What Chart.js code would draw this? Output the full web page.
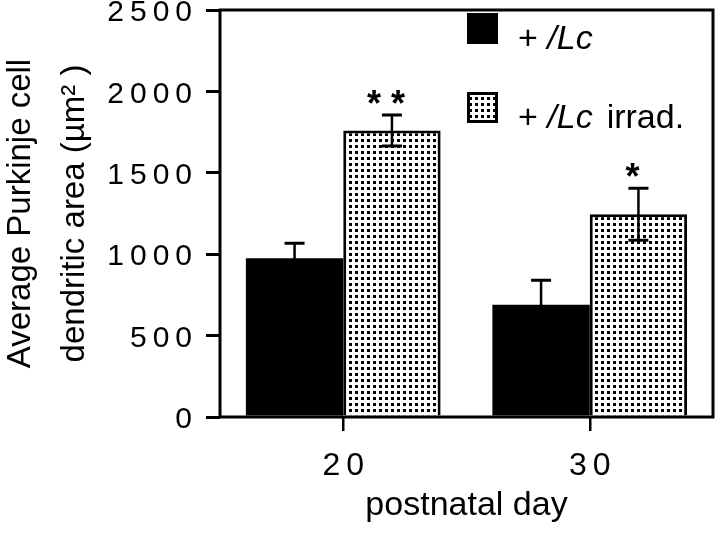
<!DOCTYPE html>
<html>
<head>
<meta charset="utf-8">
<script src="https://cdn.jsdelivr.net/npm/chart.js@4.4.1/dist/chart.umd.min.js"></script>
<style>
  html, body { margin: 0; padding: 0; background: #fff; }
</style>
</head>
<body>
<canvas id="chart" width="720" height="533"></canvas>
<script>
// postnatal day on the x axis
const days = ['20', '30'];
// + /Lc (control)
const controlMeans = [975, 690];
const controlErr = [92, 150];
// + /Lc irradiated
const irradMeans = [1760, 1245];
const irradErr = [95, 160];
const irradStars = ['* *', '*'];
const yTicks = [0, 500, 1000, 1500, 2000, 2500];

const FONT = "'Liberation Sans', Arial, Helvetica, sans-serif";
const canvas = document.getElementById('chart');

// dotted fill for the irradiated bars
function makeDots(ctx) {
    const c = document.createElement('canvas');
    c.width = 6;
    c.height = 6;
    const g = c.getContext('2d');
    g.fillStyle = '#fff';
    g.fillRect(0, 0, 6, 6);
    g.fillStyle = '#000';
    g.fillRect(1, 1, 3, 3);
    return ctx.createPattern(c, 'repeat');
}
const dots = makeDots(canvas.getContext('2d'));

// wider letter spacing on tick labels, like the original figure
const spacedTicks = {
    id: 'spacedTicks',
    beforeDraw(chart) {
        ['x', 'y'].forEach(id => {
            const s = chart.scales[id];
            if (s._spaced) return;
            const orig = s.drawLabels;
            s.drawLabels = function (area) {
                this.ctx.save();
                this.ctx.letterSpacing = '6px';
                orig.call(this, area);
                this.ctx.restore();
            };
            s._spaced = true;
        });
    }
};

// error bars, significance stars, frame and legend
const extras = {
    id: 'extras',
    afterDatasetsDraw(chart) {
        const { ctx, chartArea: a, scales: { y } } = chart;
        const errs = [controlErr, irradErr];
        ctx.save();
        ctx.letterSpacing = '0px';
        ctx.strokeStyle = '#000';
        ctx.fillStyle = '#000';
        errs.forEach((err, di) => {
            const meta = chart.getDatasetMeta(di);
            meta.data.forEach((bar, i) => {
                const v = chart.data.datasets[di].data[i];
                const top = y.getPixelForValue(v + err[i]);
                const bot = y.getPixelForValue(v - err[i]);
                ctx.lineWidth = 2.5;
                ctx.beginPath();
                ctx.moveTo(bar.x, top);
                ctx.lineTo(bar.x, bot);
                ctx.stroke();
                ctx.lineWidth = 3;
                ctx.beginPath();
                ctx.moveTo(bar.x - 10, top);
                ctx.lineTo(bar.x + 10, top);
                ctx.moveTo(bar.x - 10, bot);
                ctx.lineTo(bar.x + 10, bot);
                ctx.stroke();
                if (di === 1 && irradStars[i]) {
                    ctx.font = 'bold 36px ' + FONT;
                    ctx.textAlign = 'center';
                    ctx.textBaseline = 'alphabetic';
                    ctx.fillText(irradStars[i], bar.x - 6, top + 1);
                }
            });
        });

        // frame round the plot
        ctx.lineWidth = 3;
        ctx.strokeRect(a.left, a.top, a.right - a.left, a.bottom - a.top);

        // legend
        const lx = a.left + 247;
        const rows = [
            { fill: '#000', top: a.top + 3, extra: '' },
            { fill: dots, top: a.top + 82, extra: 'irrad.' }
        ];
        rows.forEach(r => {
            ctx.fillStyle = r.fill;
            ctx.fillRect(lx, r.top, 31, 31);
            if (r.fill !== '#000') {
                ctx.lineWidth = 3;
                ctx.strokeRect(lx + 1.5, r.top + 1.5, 28, 28);
            }
            ctx.fillStyle = '#000';
            ctx.textAlign = 'left';
            ctx.textBaseline = 'alphabetic';
            const base = r.top + 36;
            let x = lx + 51;
            ctx.font = '34px ' + FONT;
            ctx.fillText('+ ', x, base);
            x += ctx.measureText('+ ').width;
            ctx.font = 'italic 34px ' + FONT;
            ctx.fillText('/Lc', x, base);
            x += ctx.measureText('/Lc').width + 14;
            if (r.extra) {
                ctx.font = '34px ' + FONT;
                ctx.fillText(r.extra, x, base);
            }
        });
        ctx.restore();
    }
};

new Chart(canvas, {
    type: 'bar',
    data: {
        labels: days,
        datasets: [
            {
                label: '+ /Lc',
                data: controlMeans,
                backgroundColor: '#000',
                borderWidth: 0
            },
            {
                label: '+ /Lc irrad.',
                data: irradMeans,
                backgroundColor: dots,
                borderColor: '#000',
                borderWidth: 3
            }
        ]
    },
    options: {
        responsive: false,
        animation: false,
        devicePixelRatio: 1,
        layout: { padding: { top: 10, right: 7, left: 0, bottom: 0 } },
        datasets: { bar: { barPercentage: 1, categoryPercentage: 0.79 } },
        plugins: {
            legend: { display: false },
            tooltip: { enabled: false }
        },
        scales: {
            x: {
                afterFit(s) { s.height = 116; },
                grid: { offset: false, drawOnChartArea: false, tickLength: 14, lineWidth: 2.5, color: '#000' },
                border: { display: false },
                ticks: { color: '#000', font: { family: FONT, size: 32 }, padding: 16, labelOffset: 3 },
                title: {
                    display: true,
                    text: 'postnatal day',
                    color: '#000',
                    font: { family: FONT, size: 34 },
                    padding: { top: 0, bottom: 7 }
                }
            },
            y: {
                min: 0,
                max: 2500,
                afterBuildTicks(s) { s.ticks = yTicks.map(v => ({ value: v })); },
                afterFit(s) {
                    s.width = 220;
                    s.paddingTop = 0;
                    s.paddingBottom = 0;
                },
                grid: { drawOnChartArea: false, tickLength: 14, lineWidth: 3, color: '#000' },
                border: { display: false },
                ticks: {
                    color: '#000',
                    font: { family: FONT, size: 30 },
                    padding: 8,
                    labelOffset: 3,
                    callback: v => String(v)
                },
                title: {
                    display: true,
                    text: ['Average Purkinje cell', 'dendritic area (µm² )'],
                    color: '#000',
                    font: { family: FONT, size: 33, lineHeight: 1.64 },
                    padding: { top: -6, bottom: 0 }
                }
            }
        }
    },
    plugins: [spacedTicks, extras]
});
</script>
</body>
</html>
